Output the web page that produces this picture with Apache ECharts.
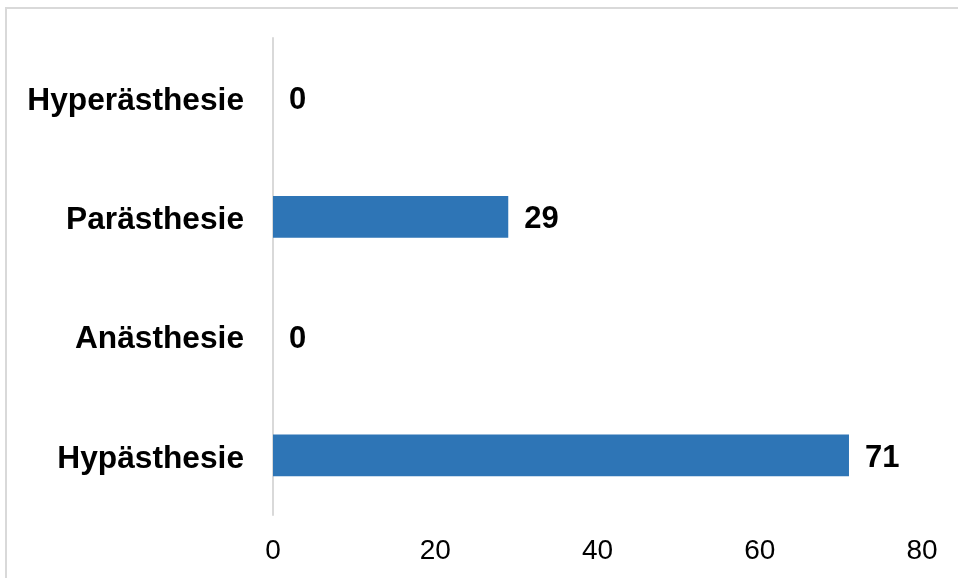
<!DOCTYPE html>
<html><head><meta charset="utf-8">
<script src="https://cdn.jsdelivr.net/npm/echarts@6/dist/echarts.min.js"></script>
<style>html,body{margin:0;padding:0;background:#fff;}#c{width:958px;height:578px;}</style>
</head><body><div id="c"></div>
<script>
const categories = ['Hypästhesie', 'Anästhesie', 'Parästhesie', 'Hyperästhesie'];
const values = [71, 0, 29, 0];
const xTicks = [0, 20, 40, 60, 80];

const chart = echarts.init(document.getElementById('c'));
chart.setOption({
  animation: false,
  graphic: [{
    type: 'rect', shape: {x: 6, y: 8, width: 1000, height: 1000},
    style: {fill: 'none', stroke: '#d9d9d9', lineWidth: 2}, silent: true
  }],
  grid: {left: 273, right: 36, top: 38, bottom: 63},
  xAxis: {
    type: 'value', min: xTicks[0], max: xTicks[xTicks.length - 1], interval: 20,
    axisLine: {show: false}, axisTick: {show: false}, splitLine: {show: false},
    axisLabel: {fontFamily: 'Liberation Sans, Arial', fontSize: 28, color: '#000', margin: 22}
  },
  yAxis: {
    type: 'category', data: categories,
    axisLine: {show: true, lineStyle: {color: '#d9d9d9', width: 2}},
    axisTick: {show: false},
    axisLabel: {
      margin: 29, formatter: v => '{a|' + v + '}',
      rich: {a: {fontFamily: 'Liberation Sans, Arial', fontSize: 31.7, fontWeight: 'bold', color: '#000', padding: [7, 0, 0, 0]}}
    }
  },
  series: [{
    type: 'bar', data: values, barWidth: '35%',
    itemStyle: {color: '#2E75B6'},
    label: {show: true, position: 'right', distance: 16, offset: [0, 3], fontFamily: 'Liberation Sans, Arial', fontSize: 31, fontWeight: 'bold', color: '#000'}
  }]
});
</script></body></html>
